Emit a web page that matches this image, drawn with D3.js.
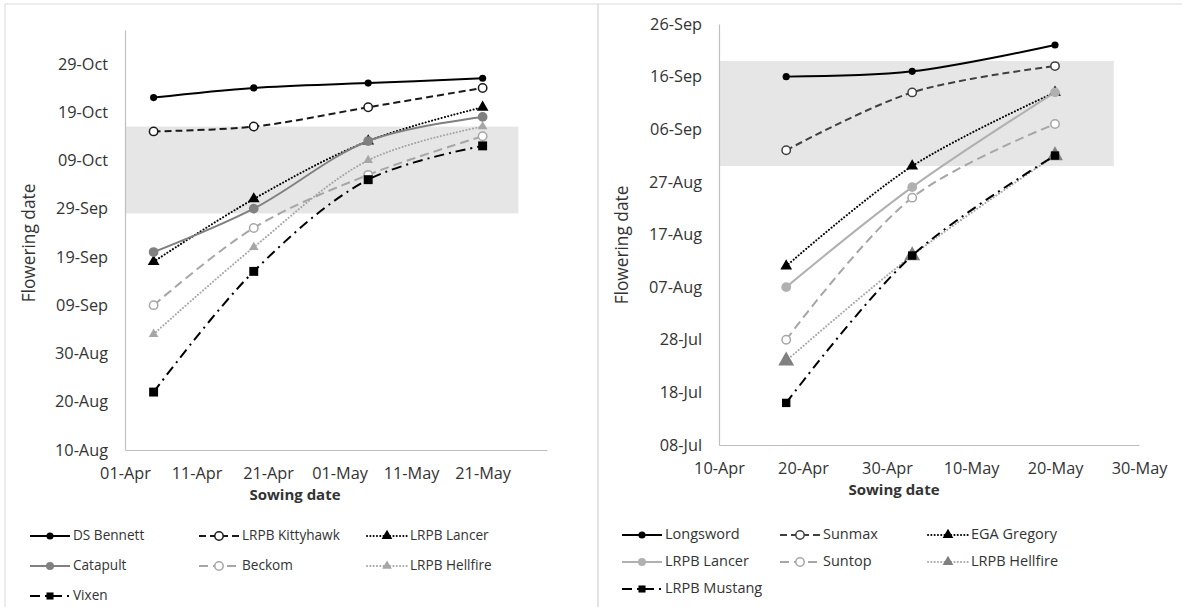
<!DOCTYPE html>
<html>
<head>
<meta charset="utf-8">
<script src="https://cdn.jsdelivr.net/npm/d3@7"></script>
<style>
    body { margin: 0; background: #fff; }
    text { font-family: "Open Sans", sans-serif; fill: #333; }
</style>
</head>
<body>
<svg id="chart" width="1182" height="607"></svg>
<script>
// ---- left chart data ----
const leftSowing = ["05-Apr", "19-Apr", "05-May", "21-May"];
const leftXTicks = ["01-Apr", "11-Apr", "21-Apr", "01-May", "11-May", "21-May"];
const leftYTicks = ["10-Aug", "20-Aug", "30-Aug", "09-Sep", "19-Sep", "29-Sep", "09-Oct", "19-Oct", "29-Oct"];
const leftNames = ["DS Bennett", "LRPB Kittyhawk", "LRPB Lancer", "Catapult", "Beckom", "LRPB Hellfire", "Vixen"];
const dsBennett = ["22-Oct", "24-Oct", "25-Oct", "26-Oct"];
const kittyhawk = ["15-Oct", "16-Oct", "20-Oct", "24-Oct"];
const lancerL = ["18-Sep", "01-Oct", "13-Oct", "20-Oct"];
const catapult = ["20-Sep", "29-Sep", "13-Oct", "18-Oct"];
const beckom = ["09-Sep", "25-Sep", "06-Oct", "14-Oct"];
const hellfireL = ["03-Sep", "21-Sep", "09-Oct", "16-Oct"];
const vixen = ["22-Aug", "16-Sep", "05-Oct", "12-Oct"];
const leftBandDates = ["01-Apr", "26-May"];
const leftBandFlower = ["28-Sep", "16-Oct"];

// ---- right chart data ----
const rightSowing = ["18-Apr", "03-May", "20-May"];
const rightXTicks = ["10-Apr", "20-Apr", "30-Apr", "10-May", "20-May", "30-May"];
const rightYTicks = ["08-Jul", "18-Jul", "28-Jul", "07-Aug", "17-Aug", "27-Aug", "06-Sep", "16-Sep", "26-Sep"];
const rightNames = ["Longsword", "Sunmax", "EGA Gregory", "LRPB Lancer", "Suntop", "LRPB Hellfire", "LRPB Mustang"];
const longsword = ["16-Sep", "17-Sep", "22-Sep"];
const sunmax = ["02-Sep", "13-Sep", "18-Sep"];
const egaGregory = ["11-Aug", "30-Aug", "13-Sep"];
const lancerR = ["07-Aug", "26-Aug", "13-Sep"];
const suntop = ["28-Jul", "24-Aug", "07-Sep"];
const hellfireR = ["24-Jul", "13-Aug", "01-Sep"];
const mustang = ["16-Jul", "13-Aug", "01-Sep"];
const rightBandDates = ["10-Apr", "27-May"];
const rightBandFlower = ["30-Aug", "19-Sep"];

const parse = d3.timeParse("%d-%b");
const fmt = d3.timeFormat("%d-%b");

// line / marker styles
const styles = {
    blackSolid:   { stroke: "#000", dash: null, marker: "circle", fill: "#000", size: 40 },
    blackDash:    { stroke: "#1a1a1a", dash: "7,4", marker: "open", fill: "#fff", mstroke: "#1a1a1a", size: 60 },
    darkDash:     { stroke: "#404040", dash: "7,4", marker: "open", fill: "#fff", mstroke: "#404040", size: 60 },
    blackDot:     { stroke: "#000", dash: "0.1,3.2", cap: "round", marker: "triangle", fill: "#000", size: 60 },
    graySolid:    { stroke: "#808080", dash: null, marker: "circle", fill: "#808080", size: 75 },
    lightSolid:   { stroke: "#b0b0b0", dash: null, marker: "circle", fill: "#b0b0b0", size: 75 },
    grayDash:     { stroke: "#a6a6a6", dash: "9,5", marker: "open", fill: "#fff", mstroke: "#a6a6a6", size: 60 },
    grayDot:      { stroke: "#a6a6a6", dash: "0.1,3.2", cap: "round", marker: "triangle", fill: "#a6a6a6", size: 40 },
    grayDotBig:   { stroke: "#a6a6a6", dash: "0.1,3.2", cap: "round", marker: "triangle", fill: "#808080", size: 110 },
    dashDot:      { stroke: "#000", dash: "10,5,2,5", marker: "square", fill: "#000", size: 80 },
    dashDotDark:  { stroke: "#000", dash: "10,5,2,5", marker: "square", fill: "#000", size: 70 }
};

const svg = d3.select("#chart");

function drawPanel(cfg) {
    let g = svg.append("g");

    // panel border
    g.append("rect")
        .attr("x", cfg.frame[0]).attr("y", 4)
        .attr("width", cfg.frame[1] - cfg.frame[0]).attr("height", 700)
        .attr("fill", "none").attr("stroke", "#d9d9d9");

    let x = d3.scaleTime()
        .domain(cfg.xDomain.map(parse))
        .range([cfg.left, cfg.right]);
    let y = d3.scaleTime()
        .domain(cfg.yDomain.map(parse))
        .range([cfg.bottom, cfg.top]);

    // shaded optimal flowering window
    g.append("rect")
        .attr("x", x(parse(cfg.bandX[0])))
        .attr("width", x(parse(cfg.bandX[1])) - x(parse(cfg.bandX[0])))
        .attr("y", y(parse(cfg.bandY[1])))
        .attr("height", y(parse(cfg.bandY[0])) - y(parse(cfg.bandY[1])))
        .attr("fill", "#e6e6e6");

    let xAxis = d3.axisBottom(x)
        .tickValues(cfg.xTicks.map(parse))
        .tickFormat(fmt)
        .tickSize(0)
        .tickPadding(17);
    let yAxis = d3.axisLeft(y)
        .tickValues(cfg.yTicks.map(parse))
        .tickFormat(fmt)
        .tickSize(0)
        .tickPadding(17);

    g.append("g")
        .attr("transform", `translate(0,${cfg.bottom})`)
        .call(xAxis)
        .call(a => a.select(".domain").attr("stroke", "#bfbfbf").attr("stroke-width", 1.2));
    g.append("g")
        .attr("transform", `translate(${cfg.left},0)`)
        .call(yAxis)
        .call(a => a.select(".domain").attr("stroke", "#bfbfbf").attr("stroke-width", 1.2));
    g.selectAll(".tick text")
        .attr("font-family", "Open Sans")
        .attr("font-size", 16.3)
        .attr("fill", "#333");

    // axis titles
    g.append("text")
        .attr("x", cfg.xTitleX).attr("y", cfg.bottom + 50)
        .attr("text-anchor", "middle")
        .attr("font-size", 15).attr("font-weight", "bold")
        .attr("fill", "#111")
        .text("Sowing date");
    g.append("text")
        .attr("transform", `translate(${cfg.yTitleX},${cfg.yTitleY}) rotate(-90)`)
        .attr("text-anchor", "middle")
        .attr("dominant-baseline", "middle")
        .attr("font-size", 17.3)
        .text("Flowering date");

    let line = d3.line()
        .x(d => x(d.x))
        .y(d => y(d.y))
        .curve(d3.curveCatmullRom.alpha(0.5));

    cfg.series.forEach((s) => {
        let st = styles[s.style];
        let pts = cfg.sowing.map((d, i) => ({ x: parse(d), y: parse(s.values[i]) }));

        g.append("path")
            .datum(pts)
            .attr("d", line)
            .attr("fill", "none")
            .attr("stroke", st.stroke)
            .attr("stroke-width", 2)
            .attr("stroke-dasharray", st.dash)
            .attr("stroke-linecap", st.cap || "butt");

        drawMarkers(g, pts.map(p => [x(p.x), y(p.y)]), st);
    });

    // legend
    cfg.series.forEach((s, i) => {
        let st = styles[s.style];
        let col = i % 3, row = Math.floor(i / 3);
        let lx = cfg.legendX[col], ly = cfg.legendY[row];
        g.append("line")
            .attr("x1", lx).attr("x2", lx + 40)
            .attr("y1", ly).attr("y2", ly)
            .attr("stroke", st.stroke)
            .attr("stroke-width", 2)
            .attr("stroke-dasharray", st.dash)
            .attr("stroke-linecap", st.cap || "butt");
        drawMarkers(g, [[lx + 20, ly]], Object.assign({}, st, { size: Math.min(st.size, 50) }));
        g.append("text")
            .attr("x", lx + cfg.legendGap).attr("y", ly)
            .attr("dominant-baseline", "middle")
            .attr("font-size", cfg.legendFont)
            .text(s.name);
    });
}

function drawMarkers(g, coords, st) {
    coords.forEach(c => {
        if (st.marker === "open") {
            g.append("circle")
                .attr("cx", c[0]).attr("cy", c[1]).attr("r", 4.2)
                .attr("fill", "#fff").attr("stroke", st.mstroke).attr("stroke-width", 1.5);
        } else {
            let type = st.marker === "triangle" ? d3.symbolTriangle
                : st.marker === "square" ? d3.symbolSquare : d3.symbolCircle;
            g.append("path")
                .attr("transform", `translate(${c[0]},${c[1]})`)
                .attr("d", d3.symbol().type(type).size(st.size)())
                .attr("fill", st.fill);
        }
    });
}

drawPanel({
    frame: [5, 598],
    left: 125, right: 547, top: 30, bottom: 450,
    xDomain: ["01-Apr", "30-May"],
    yDomain: ["10-Aug", "05-Nov"],
    xTicks: leftXTicks, yTicks: leftYTicks,
    bandX: leftBandDates, bandY: leftBandFlower,
    sowing: leftSowing,
    xTitleX: 295, yTitleX: 30, yTitleY: 243,
    legendX: [30, 199, 367], legendY: [536, 566, 596], legendGap: 43, legendFont: 13.6,
    series: [
        { name: leftNames[0], values: dsBennett, style: "blackSolid" },
        { name: leftNames[1], values: kittyhawk, style: "blackDash" },
        { name: leftNames[2], values: lancerL, style: "blackDot" },
        { name: leftNames[3], values: catapult, style: "graySolid" },
        { name: leftNames[4], values: beckom, style: "grayDash" },
        { name: leftNames[5], values: hellfireL, style: "grayDot" },
        { name: leftNames[6], values: vixen, style: "dashDot" }
    ]
});

drawPanel({
    frame: [598, 1200],
    left: 719, right: 1139, top: 24, bottom: 445,
    xDomain: ["10-Apr", "30-May"],
    yDomain: ["08-Jul", "26-Sep"],
    xTicks: rightXTicks, yTicks: rightYTicks,
    bandX: rightBandDates, bandY: rightBandFlower,
    sowing: rightSowing,
    xTitleX: 894, yTitleX: 623, yTitleY: 245,
    legendX: [622, 780, 928], legendY: [535, 562, 589], legendGap: 43, legendFont: 14.5,
    series: [
        { name: rightNames[0], values: longsword, style: "blackSolid" },
        { name: rightNames[1], values: sunmax, style: "darkDash" },
        { name: rightNames[2], values: egaGregory, style: "blackDot" },
        { name: rightNames[3], values: lancerR, style: "lightSolid" },
        { name: rightNames[4], values: suntop, style: "grayDash" },
        { name: rightNames[5], values: hellfireR, style: "grayDotBig" },
        { name: rightNames[6], values: mustang, style: "dashDotDark" }
    ]
});
</script>
</body>
</html>
